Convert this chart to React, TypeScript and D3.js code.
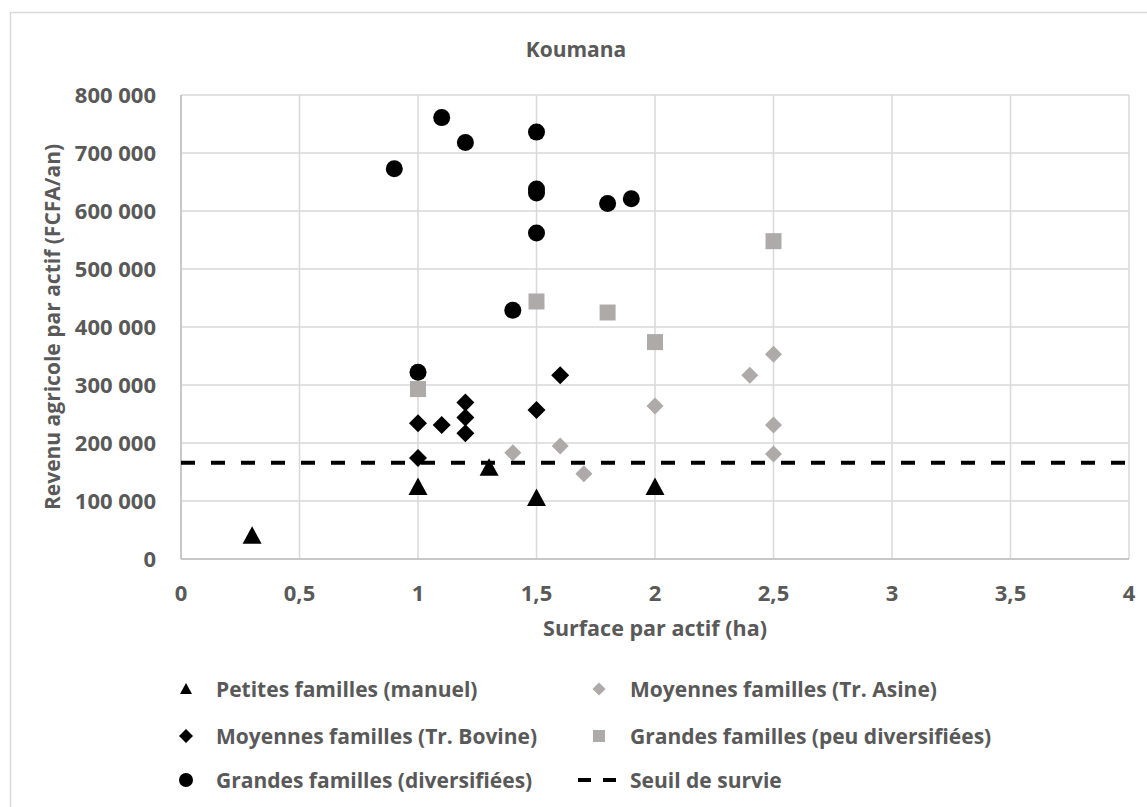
import React from "react";
import * as d3 from "d3";

const W = 1147;
const H = 807;

const title = "Koumana";
const xTitle = "Surface par actif (ha)";
const yTitle = "Revenu agricole par actif (FCFA/an)";

const xTicks = [0, 0.5, 1, 1.5, 2, 2.5, 3, 3.5, 4];
const yTicks = [0, 100000, 200000, 300000, 400000, 500000, 600000, 700000, 800000];

// Petites familles (manuel)
const petitesX = [0.3, 1.0, 1.3, 1.5, 2.0];
const petitesY = [40000, 124000, 157000, 105000, 124000];

// Moyennes familles (Tr. Asine)
const asineX = [1.4, 1.6, 1.7, 2.0, 2.4, 2.5, 2.5, 2.5];
const asineY = [183000, 195000, 147000, 264000, 317000, 353000, 231000, 181000];

// Moyennes familles (Tr. Bovine)
const bovineX = [1.0, 1.0, 1.1, 1.2, 1.2, 1.2, 1.5, 1.6];
const bovineY = [234000, 174000, 231000, 270000, 244000, 217000, 257000, 317000];

// Grandes familles (peu diversifiées)
const peuDivX = [1.0, 1.5, 1.8, 2.0, 2.5];
const peuDivY = [293000, 444000, 425000, 374000, 548000];

// Grandes familles (diversifiées)
const divX = [0.9, 1.0, 1.1, 1.2, 1.4, 1.5, 1.5, 1.5, 1.5, 1.8, 1.9];
const divY = [673000, 322000, 761000, 718000, 429000, 736000, 638000, 631000, 562000, 613000, 621000];

// Seuil de survie
const seuilX = [0, 4];
const seuilY = [166000, 166000];

const GREY = "#AEAAAA";
const TEXT = "#595959";
const FONT = "'Open Sans', sans-serif";

const fmtY = (v: number) => (v === 0 ? "0" : d3.format(",")(v).replace(/,/g, " "));
const fmtX = (v: number) => String(v).replace(".", ",");

type Shape = "triangle" | "diamond" | "square" | "circle";

function markerPath(shape: Shape, size: number): string {
  if (shape === "triangle") {
    const h = size * 0.92;
    return `M0,${-h * 0.55}L${size / 2},${h * 0.45}L${-size / 2},${h * 0.45}Z`;
  }
  if (shape === "diamond") {
    const r = size / 2;
    return `M0,${-r}L${r},0L0,${r}L${-r},0Z`;
  }
  if (shape === "square") {
    const r = size / 2;
    return `M${-r},${-r}H${r}V${r}H${-r}Z`;
  }
  return d3.symbol(d3.symbolCircle, Math.PI * (size / 2) * (size / 2))() || "";
}

const seriesList = [
  { name: "Petites familles (manuel)", xs: petitesX, ys: petitesY, shape: "triangle" as Shape, color: "#000", size: 19, lsize: 12 },
  { name: "Moyennes familles (Tr. Asine)", xs: asineX, ys: asineY, shape: "diamond" as Shape, color: GREY, size: 17, lsize: 13 },
  { name: "Moyennes familles (Tr. Bovine)", xs: bovineX, ys: bovineY, shape: "diamond" as Shape, color: "#000", size: 18, lsize: 14 },
  { name: "Grandes familles (peu diversifiées)", xs: peuDivX, ys: peuDivY, shape: "square" as Shape, color: GREY, size: 16, lsize: 12 },
  { name: "Grandes familles (diversifiées)", xs: divX, ys: divY, shape: "circle" as Shape, color: "#000", size: 17, lsize: 14 },
];

export default function App() {
  const left = 181, right = 1129, top = 95, bottom = 559;
  const x = d3.scaleLinear().domain([0, 4]).range([left, right]);
  const y = d3.scaleLinear().domain([0, 800000]).range([bottom, top]);
  const line = d3.line<number>().x((_, i) => x(seuilX[i])).y((_, i) => y(seuilY[i]));

  const legendCols = [186, 599];
  const legendTextCols = [216, 630];
  const legendRows = [689, 736, 780];
  const legendItems = [
    ...seriesList.map((s) => ({ kind: "marker" as const, s })),
    { kind: "line" as const, s: null as any },
  ];

  return (
    <svg width={W} height={H} style={{ position: "absolute", left: 0, top: 0, background: "#fff" }}>
      <rect x={0} y={0} width={W} height={H} fill="#fff" />
      <rect x={10.5} y={12.5} width={W + 10} height={H + 10} fill="none" stroke="#d9d9d9" strokeWidth={1.5} />
      <text x={576} y={57} textAnchor="middle" fontFamily={FONT} fontWeight={700} fontSize={21} fill={TEXT}>
        {title}
      </text>

      {/* gridlines */}
      {yTicks.map((t) => (
        <line key={"gy" + t} x1={left} x2={right} y1={y(t)} y2={y(t)} stroke="#d9d9d9" strokeWidth={1.5} />
      ))}
      {xTicks.map((t) => (
        <line key={"gx" + t} x1={x(t)} x2={x(t)} y1={top} y2={bottom} stroke="#d9d9d9" strokeWidth={1.5} />
      ))}
      <line x1={left} x2={right} y1={bottom} y2={bottom} stroke="#bfbfbf" strokeWidth={1.5} />
      <line x1={left} x2={left} y1={top} y2={bottom} stroke="#bfbfbf" strokeWidth={1.5} />

      {/* tick labels */}
      {yTicks.map((t) => (
        <text key={"ty" + t} x={156} y={y(t) + 8} textAnchor="end" fontFamily={FONT} fontWeight={700} fontSize={22} fill={TEXT}>
          {fmtY(t)}
        </text>
      ))}
      {xTicks.map((t) => (
        <text key={"tx" + t} x={x(t)} y={601} textAnchor="middle" fontFamily={FONT} fontWeight={700} fontSize={22} fill={TEXT}>
          {fmtX(t)}
        </text>
      ))}

      <text x={655} y={636} textAnchor="middle" fontFamily={FONT} fontWeight={700} fontSize={21.5} fill={TEXT}>
        {xTitle}
      </text>
      <text
        transform={`translate(60,327) rotate(-90)`}
        textAnchor="middle"
        fontFamily={FONT}
        fontWeight={700}
        fontSize={21}
        fill={TEXT}
      >
        {yTitle}
      </text>

      {/* series */}
      {seriesList.map((s) =>
        s.xs.map((xv, i) => (
          <path
            key={s.name + i}
            d={markerPath(s.shape, s.size)}
            transform={`translate(${x(xv)},${y(s.ys[i])})`}
            fill={s.color}
          />
        ))
      )}
      <path d={line(seuilY) || ""} fill="none" stroke="#000" strokeWidth={4} strokeDasharray="14,16" />

      {/* legend */}
      {legendItems.map((it, idx) => {
        const col = idx % 2;
        const row = Math.floor(idx / 2);
        const cx = legendCols[col];
        const cy = legendRows[row];
        return (
          <g key={"lg" + idx}>
            {it.kind === "marker" ? (
              <path d={markerPath(it.s.shape, it.s.lsize)} transform={`translate(${cx},${cy})`} fill={it.s.color} />
            ) : (
              <g>
                <line x1={cx - 21} x2={cx - 8} y1={cy} y2={cy} stroke="#000" strokeWidth={4} />
                <line x1={cx + 4} x2={cx + 17} y1={cy} y2={cy} stroke="#000" strokeWidth={4} />
              </g>
            )}
            <text x={legendTextCols[col]} y={cy + 7.5} fontFamily={FONT} fontWeight={700} fontSize={21} fill={TEXT}>
              {it.kind === "marker" ? it.s.name : "Seuil de survie"}
            </text>
          </g>
        );
      })}
    </svg>
  );
}
